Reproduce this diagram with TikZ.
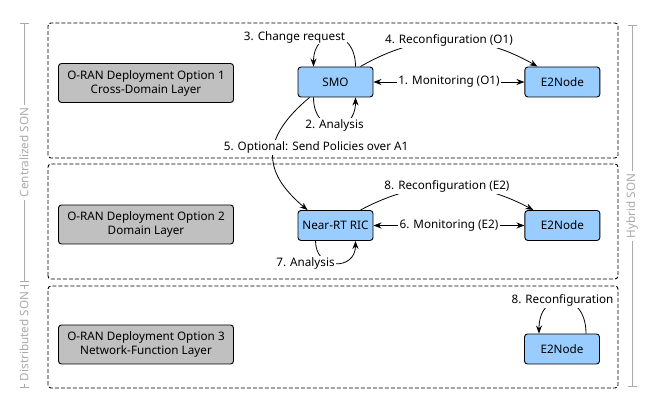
\documentclass[tikz,border=0pt]{standalone}
\usepackage{fontspec}
\setmainfont{Noto Sans}
\usetikzlibrary{arrows.meta,positioning}

\begin{document}
\begin{tikzpicture}[x=1pt,y=1pt,
  >={Stealth[length=8pt,width=6pt]},
  font=\fontsize{11.7}{14}\selectfont,
  layer/.style={draw,dash pattern=on 4pt off 2pt,rounded corners=3pt,line width=0.9pt},
  optbox/.style={draw,fill=optgray,rounded corners=3pt,line width=0.9pt,
    minimum width=175pt,minimum height=39pt,align=center},
  funcbox/.style={draw,fill=funcblue,rounded corners=3pt,line width=0.9pt,
    minimum width=75pt,minimum height=30pt},
  lbl/.style={fill=white,inner sep=1.5pt},
  flow/.style={line width=0.8pt},
  sonbar/.style={draw=songray,line width=0.8pt,{Bar[width=9pt]}-{Bar[width=9pt]}},
  sonlbl/.style={text=songray,fill=white,rotate=90,inner sep=3pt}]
% Define colours
\definecolor{optgray}{RGB}{192,192,192}
\definecolor{funcblue}{RGB}{153,204,255}
\definecolor{songray}{RGB}{170,170,170}
\useasboundingbox (0,0) rectangle (659,411);

% Draw the three layers
\draw[layer] (48,253) rectangle (618,388);
\draw[layer] (48,132) rectangle (618,247);
\draw[layer] (48,23) rectangle (618,125);

% Deployment options
\node[optbox] (opt1) at (146,328) {O-RAN Deployment Option 1\\Cross-Domain Layer};
\node[optbox] (opt2) at (146,186.5) {O-RAN Deployment Option 2\\Domain Layer};
\node[optbox] (opt3) at (146,66.5) {O-RAN Deployment Option 3\\Network-Function Layer};

% Functions
\node[funcbox] (smo) at (335.5,329) {SMO};
\node[funcbox,right=151pt of smo] (e2a) {E2Node};
\node[funcbox] (nric) at (335.5,185.5) {Near-RT RIC};
\node[funcbox,right=151pt of nric] (e2b) {E2Node};
\node[funcbox] (e2c) at (562,62) {E2Node};

% Centralized layer
\draw[flow,<->] (smo) -- node[lbl] {1. Monitoring (O1)} (e2a);
\draw[flow,->] ([xshift=-22pt]smo.south) to[out=-90,in=-90,looseness=2.3]
  node[lbl] {2. Analysis} ([xshift=20pt]smo.south);
\draw[flow,->] ([xshift=20pt]smo.north) to[out=90,in=90,looseness=2.4]
  node[lbl,xshift=-40pt] {3. Change request} ([xshift=-22pt]smo.north);
\draw[flow,->] ([xshift=-13pt]smo.north east) to[out=30,in=150]
  node[lbl] {4. Reconfiguration (O1)} ([xshift=13pt]e2a.north west);
\draw[flow,->] ([xshift=12pt]smo.south west) to[out=-140,in=140,looseness=1.4]
  node[lbl,xshift=43pt,yshift=6pt] {5. Optional: Send Policies over A1} ([xshift=10pt]nric.north west);

% Domain layer
\draw[flow,<->] (nric) -- node[lbl] {6. Monitoring (E2)} (e2b);
\draw[flow,->] ([xshift=-20pt]nric.south) to[out=-90,in=-90,looseness=1.9]
  node[lbl,xshift=-30pt] {7. Analysis} ([xshift=20pt]nric.south);
\draw[flow,->] ([xshift=-13pt]nric.north east) to[out=28,in=152]
  node[lbl] {8. Reconfiguration (E2)} ([xshift=9pt]e2b.north west);

% Network-function layer
\draw[flow,->] ([xshift=24pt]e2c.north) to[out=90,in=90,looseness=2.4]
  node[lbl] {8. Reconfiguration} ([xshift=-23pt]e2c.north);

% SON scopes
\draw[sonbar] (24,388) -- node[sonlbl] {Centralized SON} (24,129);
\draw[sonbar] (24,126) -- node[sonlbl] {Distributed SON} (24,23);
\draw[sonbar] (632,386) -- node[sonlbl] {Hybrid SON} (632,24);
\end{tikzpicture}
\end{document}
